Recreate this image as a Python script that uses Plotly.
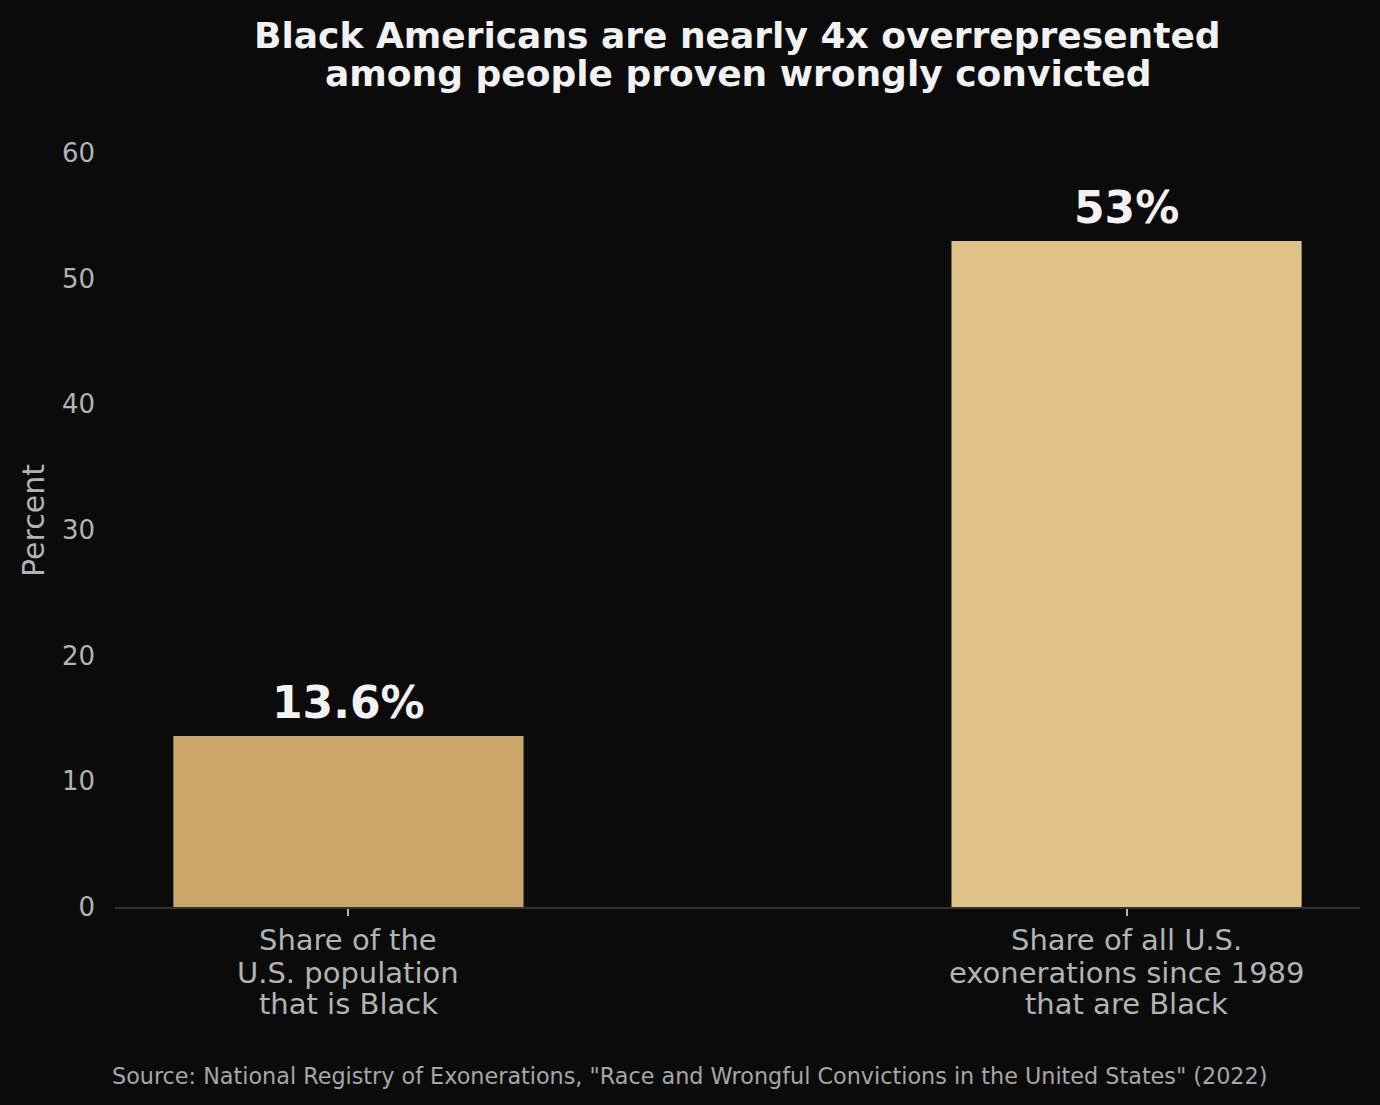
import plotly.graph_objects as go

# data
category_lines = [
    ["Share of the", "U.S. population", "that is Black"],
    ["Share of all U.S.", "exonerations since 1989", "that are Black"],
]
percents = [13.6, 53]
bar_colors = ["#c9a76a", "#e0c389"]
y_ticks = [0, 10, 20, 30, 40, 50, 60]
title_lines = [
    "Black Americans are nearly 4x overrepresented",
    "among people proven wrongly convicted",
]
source_text = 'Source: National Registry of Exonerations, "Race and Wrongful Convictions in the United States" (2022)'

BG = "#0b0b0b"
FONT = "DejaVu Sans"
TICK_GREY = "#b3b3b3"
WHITE = "#f2f2f2"


def paper_note(text, x, y, size, color, **kw):
    fig.add_annotation(
        text=text,
        xref="paper",
        yref="paper",
        x=x,
        y=y,
        xanchor="center",
        yanchor="middle",
        showarrow=False,
        font=dict(family=FONT, size=size, color=color),
        **kw,
    )


fig = go.Figure()

fig.add_trace(
    go.Bar(
        x=[0, 1],
        y=percents,
        marker_color=bar_colors,
        marker_line_width=0,
        width=0.45,
        hoverinfo="skip",
    )
)

# value labels above the bars
for i, v in enumerate(percents):
    fig.add_annotation(
        x=i,
        y=v,
        text=f"<b>{v:g}%</b>",
        showarrow=False,
        yanchor="bottom",
        yshift=6,
        font=dict(family=FONT, size=44, color=WHITE),
    )

# category labels, one annotation per line to get matplotlib-like spacing
line_y = [-0.0437, -0.0870, -0.1286]
for i, lines in enumerate(category_lines):
    for line, ly in zip(lines, line_y):
        fig.add_annotation(
            text=line,
            x=i,
            xref="x",
            yref="paper",
            y=ly,
            xanchor="center",
            yanchor="middle",
            showarrow=False,
            font=dict(family=FONT, size=29, color=TICK_GREY),
        )

# title, two lines
for line, ypos in zip(title_lines, [1.1563, 1.1059]):
    paper_note(f"<b>{line}</b>", 0.5, ypos, 36, WHITE)

paper_note("Percent", -0.0651, 0.5133, 30, TICK_GREY, textangle=-90)
paper_note(source_text, 0.4618, -0.2235, 22.3, "#a6a6a6")

fig.update_layout(
    width=1380,
    height=1105,
    paper_bgcolor=BG,
    plot_bgcolor=BG,
    showlegend=False,
    margin=dict(l=115, r=20, t=153, b=198),
    font=dict(family=FONT, color=TICK_GREY),
    xaxis=dict(
        range=[-0.3, 1.3],
        tickmode="array",
        tickvals=[0, 1],
        ticktext=["", ""],
        ticks="outside",
        ticklen=7,
        tickwidth=1.5,
        tickcolor=TICK_GREY,
        showgrid=False,
        zeroline=False,
        showline=True,
        linecolor="#333333",
        linewidth=2,
    ),
    yaxis=dict(
        range=[0, 60],
        tickmode="array",
        tickvals=y_ticks,
        tickfont=dict(size=26, color=TICK_GREY),
        ticks="",
        ticklabelstandoff=19,
        showgrid=False,
        zeroline=False,
        showline=False,
    ),
)

fig.write_html(
    "out.html",
    config={"displayModeBar": False},
    post_script="document.body.style.margin='0';document.body.style.background='#0b0b0b';",
)
